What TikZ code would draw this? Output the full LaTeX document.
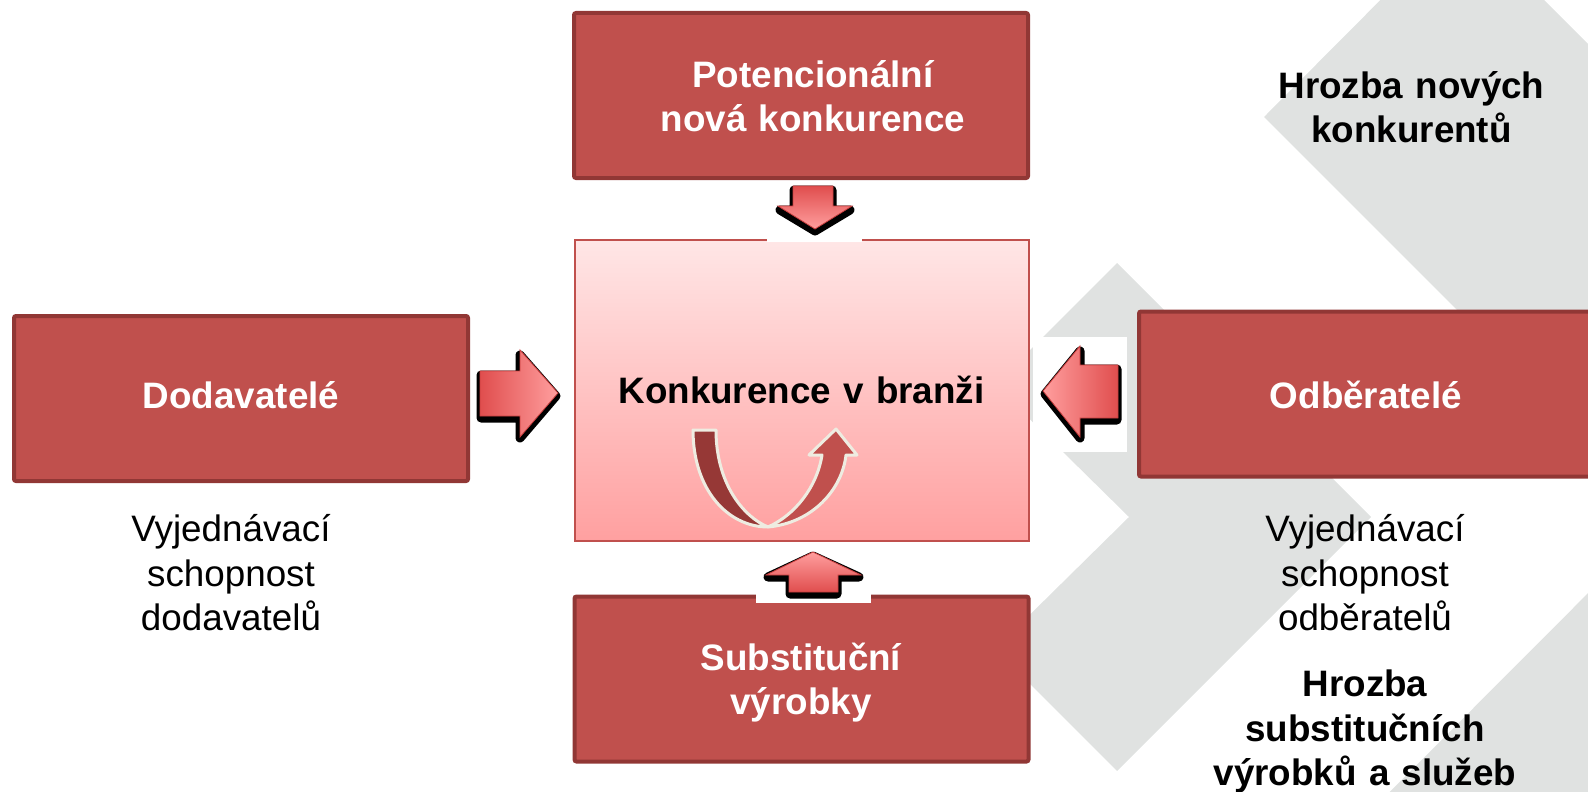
\documentclass[tikz,border=0pt]{standalone}
\usepackage{fontspec}
\setmainfont{Liberation Sans}
\definecolor{boxred}{RGB}{192,80,77}
\definecolor{boxedge}{RGB}{145,55,53}
\definecolor{bggray}{RGB}{224,226,225}
\definecolor{ctop}{RGB}{255,230,230}
\definecolor{cbot}{RGB}{255,160,160}
\definecolor{udark}{RGB}{150,56,54}
\definecolor{uline}{RGB}{238,236,225}
\definecolor{adark}{RGB}{224,78,78}
\definecolor{alight}{RGB}{255,158,158}
\definecolor{aedge}{RGB}{200,62,62}
\tikzset{
  redbox/.style={fill=boxred, draw=boxedge, line width=4pt, rounded corners=2pt, inner sep=0pt, minimum width=454pt, minimum height=165pt},
  centerbox/.style={draw=boxred, line width=2pt, top color=ctop, bottom color=cbot, inner sep=0pt, minimum width=454pt, minimum height=301pt},
  boxtext/.style={text=white, font=\bfseries\fontsize{36.8}{44.4}\selectfont, align=center, text width=440pt, anchor=base, inner sep=0pt},
  plaintext/.style={text=black, font=\fontsize{36.8}{44.4}\selectfont, align=center, text width=400pt, anchor=base, inner sep=0pt},
  boldtext/.style={plaintext, font=\bfseries\fontsize{36.8}{44.4}\selectfont},
  arrowshadow/.style={fill=black, draw=black, line width=9pt, line join=round},
  arrowbody/.style={draw=aedge, line width=0.8pt, line join=miter},
  uturn/.style={draw=uline, line width=3pt, line join=round},
  patch/.style={fill=white}
}
\begin{document}
\begin{tikzpicture}[x=1pt,y=-1pt]
\useasboundingbox (0,0) rectangle (1588,792);
\clip (0,0) rectangle (1588,792);
% background chevrons
\fill[bggray] (1462,-82) -- (2061,517) -- (1462,1116) -- (1264,918) -- (1664,517) -- (1264,117) -- cycle;
\fill[bggray] (1117,263) -- (1371,517) -- (1117,771) -- (995,649) -- (1129,517) -- (995,385) -- cycle;
% boxes
\node[redbox] (pot) at (801,95.5) {};
\node[redbox] (dod) at (241,398.5) {};
\node[redbox] (odb) at (1366,394) {};
\node[redbox] (sub) at (801.5,679) {};
\node[centerbox] (konk) at (801.5,390.5) {};
% white patches behind arrows
\fill[patch] (767,181) rectangle (862,242);
\fill[patch] (1033,337) rectangle (1127,452);
\fill[patch] (756,543) rectangle (871,603);
% arrow: supplier -> centre
\path[arrowshadow, shift={(0,3)}] (481,372) -- (520,372) -- (520,352) -- (556,393) -- (520,435) -- (520,415) -- (481,415) -- cycle;
\path[arrowbody, left color=adark, right color=alight] (480,371) -- (520,371) -- (520,350) -- (558,393) -- (520,437) -- (520,416) -- (480,416) -- cycle;
% arrow: buyers -> centre
\path[arrowshadow, shift={(0,3)}] (1117,366) -- (1080,366) -- (1080,348) -- (1045,391) -- (1080,435) -- (1080,417) -- (1117,417) -- cycle;
\path[arrowbody, left color=alight, right color=adark] (1118,365) -- (1080,365) -- (1080,346) -- (1043,391) -- (1080,437) -- (1080,418) -- (1118,418) -- cycle;
% arrow: new entrants -> centre
\path[arrowshadow, shift={(0,3)}] (794,187) -- (832,187) -- (832,207) -- (850,207) -- (815,228) -- (780,207) -- (794,207) -- cycle;
\path[arrowbody, top color=adark, bottom color=alight] (793,186) -- (833,186) -- (833,206) -- (852,206) -- (815,229) -- (778,206) -- (793,206) -- cycle;
% arrow: substitutes -> centre
\path[arrowshadow, shift={(0,3)}] (790,591) -- (837,591) -- (837,574) -- (859,574) -- (813,553) -- (768,574) -- (790,574) -- cycle;
\path[arrowbody, top color=alight, bottom color=adark] (789,592) -- (838,592) -- (838,575) -- (861,575) -- (813,552) -- (766,575) -- (789,575) -- cycle;
% U-turn arrow
\path[uturn, fill=udark] (693,430) .. controls (693,490) and (728,527) .. (768,527) .. controls (742,516) and (716,482) .. (716,430) -- cycle;
\path[uturn, fill=boxred] (768,527) .. controls (812,523) and (842,490) .. (846,455) -- (857,455) -- (836,429) -- (809,455) -- (822,455) .. controls (817,487) and (795,515) .. (768,527) -- cycle;
% texts
\node[boxtext] (tpot) at (813,87.3) {Potencionální\\nová konkurence};
\node[boxtext] (tdod) at (241,408) {Dodavatelé};
\node[boxtext] (todb) at (1366,408) {Odběratelé};
\node[boxtext] (tsub) at (801,670) {Substituční\\výrobky};
\node[boldtext] (tkonk) at (801.5,403) {Konkurence v branži};
\node[plaintext] (vd) at (231,541.7) {Vyjednávací\\schopnost\\dodavatelů};
\node[plaintext] (vo) at (1365,541.7) {Vyjednávací\\schopnost\\odběratelů};
\node[boldtext] (hn) at (1411.5,98.3) {Hrozba nových\\konkurentů};
\node[boldtext] (hs) at (1365,696.7) {Hrozba\\substitučních\\výrobků a služeb};
\end{tikzpicture}
\end{document}
